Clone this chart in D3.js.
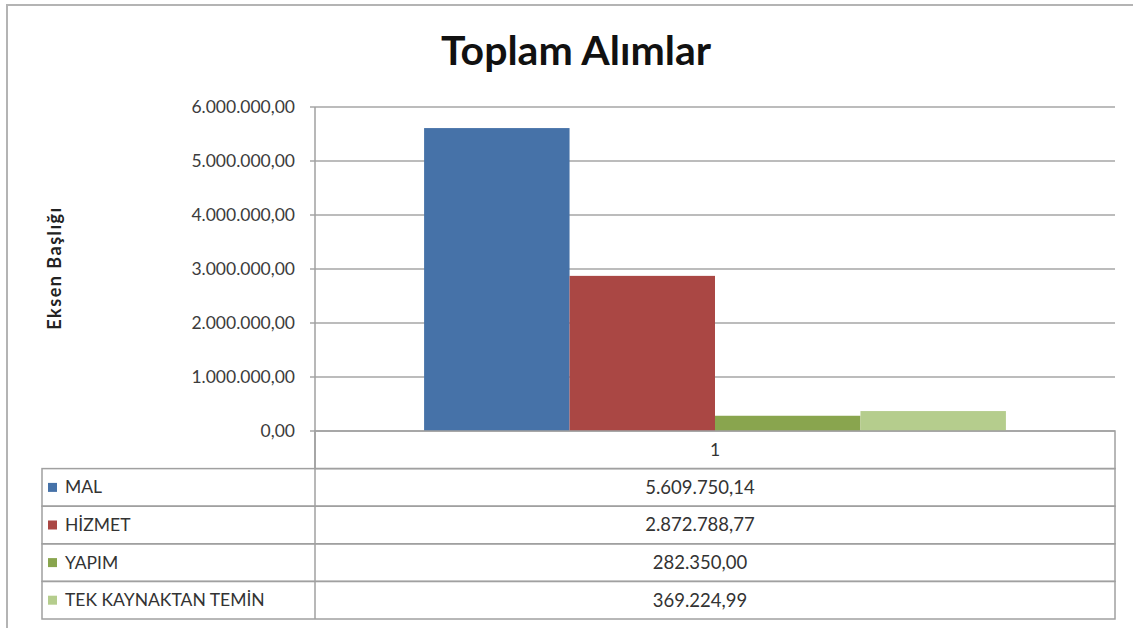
<!DOCTYPE html>
<html lang="tr">
<head>
<meta charset="UTF-8">
<title>Toplam Alımlar</title>
<script src="https://d3js.org/d3.v7.min.js"></script>
<style>
    body { margin: 0; background: #fff; }
    svg { display: block; font-family: 'Lato', 'Open Sans', sans-serif; }
    .grid line { stroke: #a6a6a6; stroke-width: 1.5px; }
    .tick-label { font-size: 17.5px; fill: #3c3c3c; }
    .cell-line { stroke: #a0a0a0; stroke-width: 1.5px; fill: none; }
    .table-text { font-size: 17.5px; fill: #333; }
    .value-text { font-size: 18.5px; fill: #333; }
</style>
</head>
<body>
<svg width="1133" height="628"></svg>
<script>
// veriler
const categories = ["1"];
const seriesNames = ["MAL", "HİZMET", "YAPIM", "TEK KAYNAKTAN TEMİN"];
const seriesValues = [5609750.14, 2872788.77, 282350.00, 369224.99];
const seriesColors = ["#4672a8", "#aa4744", "#89a54e", "#b5cd8d"];
const yTicks = [0, 1000000, 2000000, 3000000, 4000000, 5000000, 6000000];

const tr = d3.formatLocale({ decimal: ",", thousands: ".", grouping: [3], currency: ["", " ₺"] });
const fmt = tr.format(",.2f");

const svg = d3.select("svg");

// dış çerçeve
svg.append("rect")
    .attr("x", 7).attr("y", 5)
    .attr("width", 1140).attr("height", 640)
    .attr("fill", "none").attr("stroke", "#b4b4b4").attr("stroke-width", 2);

// başlık
svg.append("text")
    .attr("x", 576).attr("y", 65)
    .attr("text-anchor", "middle")
    .style("font-size", "41px").style("font-weight", "bold").style("fill", "#111")
    .text("Toplam Alımlar");

const plotLeft = 315, plotRight = 1115, plotTop = 107, plotBottom = 431;
const rowH = 37.6;

const y = d3.scaleLinear().domain([0, 6000000]).range([plotBottom, plotTop]);
const x0 = d3.scaleBand().domain(categories).range([plotLeft, plotRight]).padding(0);
const x1 = d3.scaleBand().domain(seriesNames).range([0, x0.bandwidth()])
    .paddingInner(0).paddingOuter(0.75);

// ızgara çizgileri
svg.append("g").attr("class", "grid")
    .selectAll("line").data(yTicks).join("line")
    .attr("x1", plotLeft - 5).attr("x2", plotRight)
    .attr("y1", d => y(d)).attr("y2", d => y(d));

// y ekseni etiketleri
svg.append("g").selectAll("text").data(yTicks).join("text")
    .attr("class", "tick-label")
    .attr("x", plotLeft - 20).attr("y", d => y(d) + 6)
    .attr("text-anchor", "end")
    .text(d => fmt(d));

// eksen başlığı
svg.append("text")
    .attr("transform", "translate(61,268) rotate(-90)")
    .attr("text-anchor", "middle")
    .style("font-size", "18px").style("font-weight", "bold").style("fill", "#222")
    .style("letter-spacing", "1.5px")
    .text("Eksen Başlığı");

// çubuklar
const groups = svg.append("g").selectAll("g").data(categories).join("g")
    .attr("transform", d => `translate(${x0(d)},0)`);

groups.selectAll("rect")
    .data(() => seriesNames.map((s, i) => ({ name: s, value: seriesValues[i], color: seriesColors[i] })))
    .join("rect")
    .attr("x", d => x1(d.name))
    .attr("width", x1.bandwidth())
    .attr("y", d => y(d.value))
    .attr("height", d => y(0) - y(d.value))
    .attr("fill", d => d.color);

// veri tablosu
const tableLeft = 42;
const valueX = 700;
const g = svg.append("g");

// başlık satırı (kategori)
g.append("rect").attr("class", "cell-line")
    .attr("x", plotLeft).attr("y", plotBottom)
    .attr("width", plotRight - plotLeft).attr("height", rowH);
g.append("text").attr("class", "table-text")
    .attr("x", (plotLeft + plotRight) / 2).attr("y", plotBottom + rowH / 2 + 6)
    .attr("text-anchor", "middle")
    .text(categories[0]);

// dikey eksen çizgisi
g.append("line").attr("class", "cell-line")
    .attr("x1", plotLeft).attr("x2", plotLeft)
    .attr("y1", plotTop).attr("y2", plotBottom + rowH * (seriesNames.length + 1));

const rows = g.selectAll(".row").data(seriesNames).join("g")
    .attr("class", "row")
    .attr("transform", (d, i) => `translate(0,${plotBottom + rowH * (i + 1)})`);

rows.append("rect").attr("class", "cell-line")
    .attr("x", tableLeft).attr("y", 0)
    .attr("width", plotRight - tableLeft).attr("height", rowH);

rows.append("rect")
    .attr("x", tableLeft + 6).attr("y", rowH / 2 - 4.5)
    .attr("width", 9).attr("height", 9)
    .attr("fill", (d, i) => seriesColors[i]);

rows.append("text").attr("class", "table-text")
    .attr("x", tableLeft + 23).attr("y", rowH / 2 + 6)
    .text(d => d);

rows.append("text").attr("class", "value-text")
    .attr("x", valueX).attr("y", rowH / 2 + 6.5)
    .attr("text-anchor", "middle")
    .text((d, i) => fmt(seriesValues[i]));
</script>
</body>
</html>
